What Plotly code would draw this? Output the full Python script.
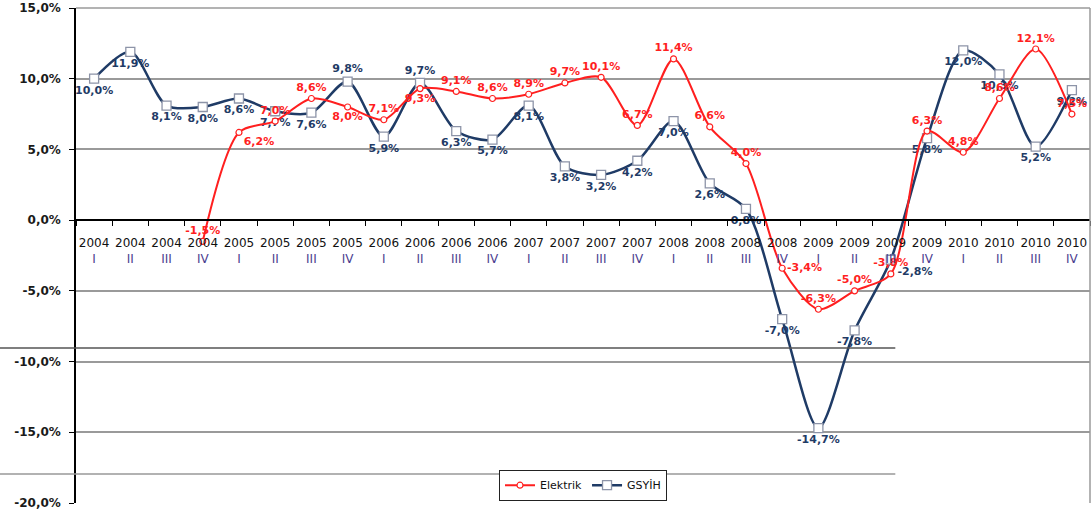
import plotly.graph_objects as go

years = ["2004"] * 4 + ["2005"] * 4 + ["2006"] * 4 + ["2007"] * 4 + ["2008"] * 4 + ["2009"] * 4 + ["2010"] * 4
quarters = ["I", "II", "III", "IV"] * 7
categories = [f"{y} {q}" for y, q in zip(years, quarters)]
tick_text = [f"{y}<br><span style='color:#4b3d8f'>{q}</span>" for y, q in zip(years, quarters)]

elektrik = [None, None, None, -1.5,
            6.2, 7.0, 8.6, 8.0,
            7.1, 9.3, 9.1, 8.6,
            8.9, 9.7, 10.1, 6.7,
            11.4, 6.6, 4.0, -3.4,
            -6.3, -5.0, -3.8, 6.3,
            4.8, 8.6, 12.1, 7.5]
gsyih = [10.0, 11.9, 8.1, 8.0,
         8.6, 7.7, 7.6, 9.8,
         5.9, 9.7, 6.3, 5.7,
         8.1, 3.8, 3.2, 4.2,
         7.0, 2.6, 0.8, -7.0,
         -14.7, -7.8, -2.8, 5.8,
         12.0, 10.3, 5.2, 9.2]

y_ticks = [15, 10, 5, 0, -5, -10, -15, -20]
y_tick_text = [f"{v:.1f}%".replace(".", ",") for v in y_ticks]

# label placement (style only)
red_pos = ["top center"] * 28
red_pos[4] = "bottom right"
red_pos[7] = "bottom center"
red_pos[9] = "bottom center"
red_pos[19] = "middle right"
navy_pos = ["bottom center"] * 28
navy_pos[7] = "top center"
navy_pos[9] = "top center"
navy_pos[22] = "bottom right"

RED = "#ff1f1f"
NAVY = "#1f3b66"
FONT = "DejaVu Sans"

fig = go.Figure()
fig.add_trace(go.Scatter(
    x=categories, y=gsyih, name="GSYİH", mode="lines+markers+text",
    line=dict(color=NAVY, width=2.5, shape="spline", smoothing=0.8),
    marker=dict(symbol="square", size=9, color="white", line=dict(color="#8d94a8", width=1.3)),
    texttemplate="%{y:.1f}%", textposition=navy_pos,
    textfont=dict(family=FONT, size=11, color=NAVY, weight="bold"),
    cliponaxis=False,
))
fig.add_trace(go.Scatter(
    x=categories, y=elektrik, name="Elektrik", mode="lines+markers+text",
    line=dict(color=RED, width=2, shape="spline", smoothing=0.8),
    marker=dict(symbol="circle", size=6, color="white", line=dict(color=RED, width=1.2)),
    texttemplate="%{y:.1f}%", textposition=red_pos,
    textfont=dict(family=FONT, size=11, color=RED, weight="bold"),
    cliponaxis=False,
))

fig.update_layout(
    width=1092, height=514,
    margin=dict(l=76, r=2, t=8, b=11),
    paper_bgcolor="white", plot_bgcolor="white",
    separators=",.",
    font=dict(family=FONT, size=11, color="#1a1a1a"),
    showlegend=True,
    legend=dict(orientation="h", x=0.5, xanchor="center", y=0.036, yanchor="middle",
                bordercolor="#222222", borderwidth=1, bgcolor="white",
                font=dict(family=FONT, size=11, color="#111111"), traceorder="reversed"),
    xaxis=dict(
        type="category", categoryorder="array", categoryarray=categories,
        range=[-0.5, 27.5],
        tickvals=categories, ticktext=tick_text, tickangle=0,
        anchor="free", position=20 / 35, automargin=False,
        showline=True, linecolor="#000000", linewidth=1.5,
        ticks="outside", ticklen=5, tickcolor="#000000", tickson="boundaries",
        ticklabelstandoff=12,
        showgrid=False, zeroline=False,
        tickfont=dict(family=FONT, size=12, color="#111111"),
    ),
    yaxis=dict(
        range=[-20, 15], tickvals=y_ticks, ticktext=y_tick_text, automargin=False,
        ticklabeloverflow="allow",
        showline=True, linecolor="#000000", linewidth=1.5,
        ticks="outside", ticklen=5, tickcolor="#000000",
        ticklabelstandoff=6,
        showgrid=True, gridcolor="#9a9a9a", gridwidth=1.5,
        zeroline=False,
        tickfont=dict(family=FONT, size=12, color="#1a1a1a", weight="bold"),
    ),
    shapes=[
        dict(type="line", xref="paper", yref="paper", x0=-0.075, x1=0.808, y0=0.313, y1=0.313,
             line=dict(color="#555555", width=1.5)),
        dict(type="line", xref="paper", yref="paper", x0=-0.075, x1=0.808, y0=0.0586, y1=0.0586,
             line=dict(color="#999999", width=1.5)),
        dict(type="line", xref="paper", yref="paper", x0=1, x1=1, y0=0, y1=1,
             line=dict(color="#9a9a9a", width=1.5)),
        dict(type="line", xref="paper", yref="paper", x0=0, x1=1, y0=1, y1=1,
             line=dict(color="#9a9a9a", width=1.5)),
    ],
)

# remove the default 8px page margin so the figure fills the window exactly
fig.write_html("out.html", config={"displayModeBar": False},
               post_script="document.body.style.margin='0';")
